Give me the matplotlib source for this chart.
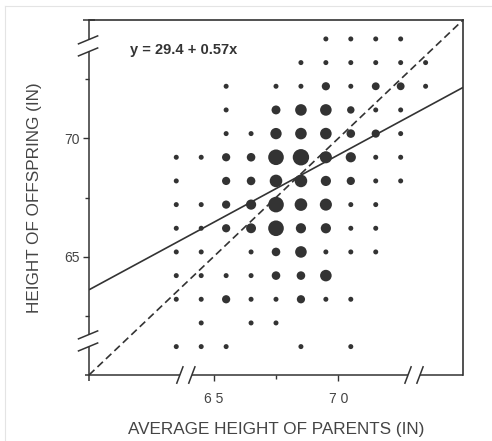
import matplotlib
matplotlib.use("Agg")
import matplotlib.pyplot as plt
import numpy as np

# ---- data ----
parent_x = [63.5, 64.5, 65.5, 66.5, 67.5, 68.5, 69.5, 70.5, 71.5, 72.5, 73.5]
child_y = [74.2, 73.2, 72.2, 71.2, 70.2, 69.2, 68.2, 67.2, 66.2, 65.2, 64.2, 63.2, 62.2, 61.2]
# approximate counts per cell (rows follow child_y, columns follow parent_x)
counts = [
    [0, 0, 0, 0, 0, 0, 2, 2, 2, 2, 0],
    [0, 0, 0, 0, 0, 2, 2, 2, 2, 2, 2],
    [0, 0, 2, 0, 2, 2, 9, 2, 8, 8, 2],
    [0, 0, 2, 0, 11, 20, 20, 7, 2, 2, 0],
    [0, 0, 2, 2, 19, 20, 20, 10, 9, 2, 0],
    [2, 2, 9, 10, 38, 42, 22, 15, 2, 2, 0],
    [2, 0, 9, 10, 24, 24, 15, 9, 2, 2, 0],
    [2, 2, 9, 15, 38, 24, 22, 2, 2, 0, 0],
    [2, 2, 9, 14, 38, 15, 15, 2, 2, 0, 0],
    [2, 2, 0, 2, 10, 20, 2, 2, 2, 0, 0],
    [2, 2, 2, 2, 10, 10, 20, 0, 0, 0, 0],
    [2, 2, 9, 2, 2, 9, 2, 2, 0, 0, 0],
    [0, 2, 0, 2, 2, 0, 0, 0, 0, 0, 0],
    [2, 2, 2, 0, 0, 2, 0, 2, 0, 0, 0],
]
intercept = 29.4
slope = 0.57
equation_label = "y = 29.4 + 0.57x"
x_ticks = [65, 70]
x_minor = [67.5]
y_ticks = [65, 70]
y_minor = [62.5, 67.5, 72.5]
xlabel = "AVERAGE HEIGHT OF PARENTS (IN)"
ylabel = "HEIGHT OF OFFSPRING (IN)"

# ---- figure ----
plt.rcParams['font.family'] = ['Liberation Sans', 'DejaVu Sans']
fig = plt.figure(figsize=(4.92, 4.41), dpi=100)
ax = fig.add_axes([89/492, 1-375/441, (463-89)/492, (375-20)/441])
ax.set_xlim(60, 75)
ax.set_ylim(60, 75)

ink = "#333333"

# bubbles
X, Y = np.meshgrid(parent_x, child_y)
C = np.array(counts, dtype=float)
mask = C > 0
d2 = 12.8 + 6.08 * C[mask]          # px^2
s = (0.72 ** 2) * d2                 # points^2
ax.scatter(X[mask], Y[mask], s=s, color=ink, edgecolors='none', zorder=3)

# regression line and y=x line
xx = np.array([60, 75])
ax.plot(xx, intercept + slope * xx, color=ink, lw=1.2, zorder=4, solid_capstyle='butt')
ax.plot(xx, xx, color=ink, lw=1.2, ls=(0, (4.5, 2.5)), zorder=4)

ax.text(61.65, 73.72, equation_label, fontsize=10.5, color=ink, fontweight='bold',
        va='center', ha='left')

# spines: top/right full, left/bottom broken
for sp in ['left', 'bottom']:
    ax.spines[sp].set_visible(False)
for sp in ['top', 'right']:
    ax.spines[sp].set_color(ink)
    ax.spines[sp].set_linewidth(1.2)

T = ax.transAxes
kw = dict(transform=T, color=ink, lw=1.1, clip_on=False, solid_capstyle='butt')
# left spine segments
ax.plot([0, 0], [1.0, 0.944], **kw)
ax.plot([0, 0], [0.910, 0.113], **kw)
ax.plot([0, 0], [0.079, -0.018], **kw)
ax.plot([-0.016, 0.016], [1.0, 1.0], **kw)
# left break marks
for yb in [0.944, 0.910, 0.113, 0.079]:
    ax.plot([-0.03, 0.025], [yb - 0.012, yb + 0.012], **kw)
# bottom spine segments
ax.plot([-0.012, 0.243], [0, 0], **kw)
ax.plot([0.275, 0.853], [0, 0], **kw)
ax.plot([0.885, 1.0], [0, 0], **kw)
# bottom break marks
for xb in [0.243, 0.275, 0.853, 0.885]:
    ax.plot([xb - 0.009, xb + 0.009], [-0.025, 0.025], **kw)

# ticks
ax.set_xticks(x_ticks)
ax.set_xticks(x_minor, minor=True)
ax.set_yticks(y_ticks)
ax.set_yticks(y_minor, minor=True)
ax.tick_params(axis='both', which='both', direction='out', color=ink, width=1.0)
ax.tick_params(axis='x', which='major', length=4, pad=8, labelsize=10, labelcolor="#444")
ax.tick_params(axis='x', which='minor', length=3)
ax.tick_params(axis='y', which='major', length=4, pad=3, labelsize=10, labelcolor="#444")
ax.tick_params(axis='y', which='minor', length=3)
ax.set_xticklabels([" ".join(str(t)) for t in x_ticks])

ax.set_xlabel(xlabel, fontsize=12.3, color="#444", labelpad=12)
ax.set_ylabel(ylabel, fontsize=12.3, color="#444", labelpad=16)

# faint frame lines of the scanned image
fig.add_artist(plt.Line2D([5/492, 1], [1-6/441, 1-6/441], color="#e4e4e4", lw=0.8))
fig.add_artist(plt.Line2D([5/492, 5/492], [0, 1-6/441], color="#e4e4e4", lw=0.8))

fig.savefig("out.png", dpi=100)
